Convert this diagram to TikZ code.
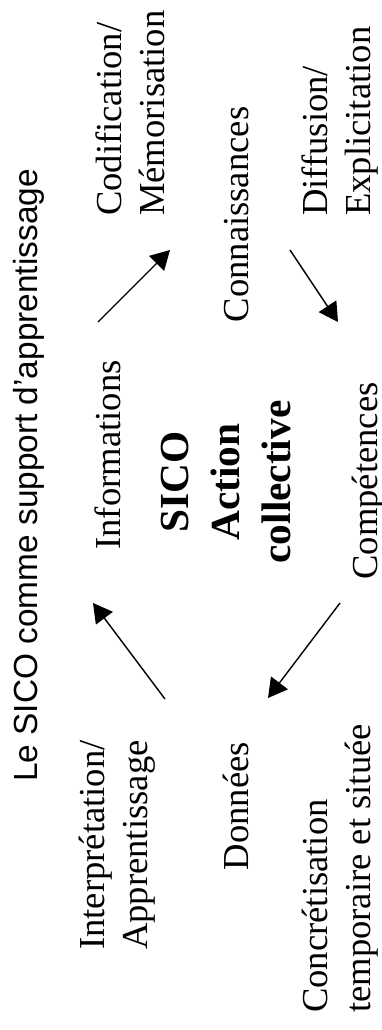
\documentclass[tikz,border=0pt]{standalone}
\usepackage{fontspec}
\setmainfont{Liberation Serif}
\newfontfamily\titlefont{Liberation Sans}
\usetikzlibrary{arrows.meta}
\tikzset{
  lbl/.style={rotate=90, inner sep=0pt, font=\fontsize{36.6}{43}\selectfont, align=left, anchor=base west},
  lblc/.style={rotate=90, inner sep=0pt, font=\fontsize{36.6}{43}\selectfont, anchor=base},
  core/.style={rotate=90, inner sep=0pt, font=\fontsize{41.3}{51}\selectfont\bfseries, align=center, anchor=base},
  ttl/.style={rotate=90, inner sep=0pt, font=\fontsize{33.4}{40}\selectfont\titlefont, anchor=base west},
  flow/.style={-{Triangle[length=19pt,width=21pt]}, line width=1.4pt}
}
\begin{document}
\begin{tikzpicture}[x=1pt,y=-1pt]
\useasboundingbox (0,0) rectangle (382,1030);
\node[ttl] (title) at (37,782) {Le SICO comme support d’apprentissage};
\node[lblc] (info) at (120,455) {Informations};
\node[core] (sico) at (290,482) {SICO\\Action\\collective};
\node[lblc] (conn) at (248,214.5) {Connaissances};
\node[lblc] (comp) at (377,481) {Compétences};
\node[lblc] (donn) at (248,806) {Données};
\node[lbl] (codif) at (164,216) {Codification/\\Mémorisation};
\node[lbl] (diff) at (370,216) {Diffusion/\\Explicitation};
\node[lbl] (interp) at (147,950) {Interprétation/\\Apprentissage};
\node[lbl] (concr) at (370,1013) {Concrétisation\\temporaire et située};
\coordinate (a1s) at (165,699);
\coordinate (a1e) at (93,603);
\coordinate (a2s) at (98,322);
\coordinate (a2e) at (170,250);
\coordinate (a3s) at (290,250);
\coordinate (a3e) at (338,322);
\coordinate (a4s) at (340,603);
\coordinate (a4e) at (268,698);
\draw[flow] (a1s) -- (a1e);
\draw[flow] (a2s) -- (a2e);
\draw[flow] (a3s) -- (a3e);
\draw[flow] (a4s) -- (a4e);
\end{tikzpicture}
\end{document}
